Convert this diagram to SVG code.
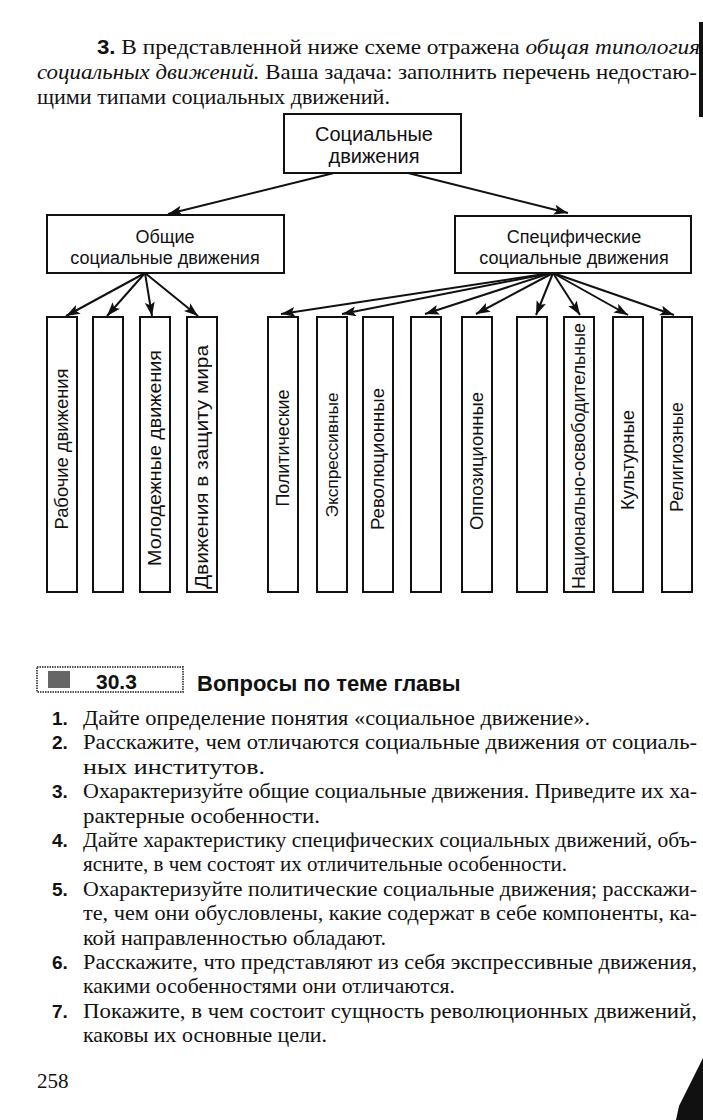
<svg xmlns="http://www.w3.org/2000/svg" width="703" height="1120" viewBox="0 0 703 1120">
<style>
.box{fill:#fff;stroke:#111;stroke-width:2}
.lbl{font-family:"Liberation Sans",Arial,sans-serif;font-size:18px;fill:#111;text-anchor:middle}
.vl{font-family:"Liberation Sans",Arial,sans-serif;font-size:18px;fill:#111;text-anchor:middle}
.ser{font-family:"Liberation Serif","Times New Roman",serif;font-size:21px;fill:#111}
.num{font-family:"Liberation Sans",Arial,sans-serif;font-size:19px;font-weight:bold;fill:#111}
.con line{stroke:#111;stroke-width:2;marker-end:url(#ah)}
</style>
<defs>
<marker id="ah" markerUnits="userSpaceOnUse" markerWidth="16" markerHeight="12" refX="14" refY="5" orient="auto">
<path d="M0,0 L14,5 L0,10 L3,5 z" fill="#111"/>
</marker>
</defs>
<rect width="703" height="1120" fill="#fff"/>

<g id="intro">
<text class="ser" x="97" y="54" textLength="603" lengthAdjust="spacingAndGlyphs"><tspan class="num" style="font-size:20px">3.</tspan> В представленной ниже схеме отражена <tspan font-style="italic">общая типология</tspan></text>
<text class="ser" x="37" y="79" textLength="660" lengthAdjust="spacingAndGlyphs"><tspan font-style="italic">социальных движений.</tspan> Ваша задача: заполнить перечень недостаю-</text>
<text class="ser" x="37" y="104" textLength="353" lengthAdjust="spacingAndGlyphs">щими типами социальных движений.</text>
</g>

<g id="connectors" class="con">
<line x1="334" y1="173" x2="168" y2="214"/>
<line x1="408" y1="173" x2="568" y2="213"/>
<line x1="145" y1="273" x2="66" y2="316"/>
<line x1="145" y1="273" x2="107" y2="316"/>
<line x1="145" y1="273" x2="152" y2="316"/>
<line x1="145" y1="273" x2="198" y2="316"/>
<line x1="551" y1="273" x2="281" y2="314"/>
<line x1="551" y1="273" x2="342" y2="314"/>
<line x1="551" y1="273" x2="425" y2="314"/>
<line x1="553" y1="273" x2="476" y2="314"/>
<line x1="553" y1="273" x2="536" y2="315"/>
<line x1="553" y1="273" x2="580" y2="315"/>
<line x1="553" y1="273" x2="628" y2="315"/>
<line x1="553" y1="273" x2="674" y2="315"/>
</g>

<g id="root">
<rect class="box" x="284" y="114" width="177" height="59"/>
<text class="lbl" style="font-size:20px" x="374" y="141">Социальные</text>
<text class="lbl" style="font-size:20px" x="374" y="163">движения</text>
</g>
<g id="general">
<rect class="box" x="47" y="215" width="237" height="58"/>
<text class="lbl" x="165" y="243">Общие</text>
<text class="lbl" x="165" y="264">социальные движения</text>
</g>
<g id="specific">
<rect class="box" x="455" y="216" width="236" height="57"/>
<text class="lbl" x="574" y="243">Специфические</text>
<text class="lbl" x="574" y="264">социальные движения</text>
</g>

<g id="g1"><rect class="box" x="47" y="317" width="30" height="275"/><text class="vl" transform="translate(62,449) rotate(-90)" y="6" textLength="161" lengthAdjust="spacingAndGlyphs">Рабочие движения</text></g>
<g id="g2"><rect class="box" x="93" y="317" width="30" height="275"/></g>
<g id="g3"><rect class="box" x="140" y="317" width="30" height="275"/><text class="vl" transform="translate(155,458) rotate(-90)" y="6" textLength="216" lengthAdjust="spacingAndGlyphs">Молодежные движения</text></g>
<g id="g4"><rect class="box" x="187" y="317" width="30" height="275"/><text class="vl" transform="translate(202,467) rotate(-90)" y="6" textLength="244" lengthAdjust="spacingAndGlyphs">Движения в защиту мира</text></g>

<g id="s1"><rect class="box" x="268" y="317" width="30" height="275"/><text class="vl" transform="translate(283,448) rotate(-90)" y="6" textLength="117" lengthAdjust="spacingAndGlyphs">Политические</text></g>
<g id="s2"><rect class="box" x="317" y="317" width="30" height="275"/><text class="vl" style="font-size:16.5px" transform="translate(332,455) rotate(-90)" y="6" textLength="125" lengthAdjust="spacingAndGlyphs">Экспрессивные</text></g>
<g id="s3"><rect class="box" x="363" y="317" width="30" height="275"/><text class="vl" transform="translate(378,459) rotate(-90)" y="6" textLength="142" lengthAdjust="spacingAndGlyphs">Революционные</text></g>
<g id="s4"><rect class="box" x="411" y="317" width="30" height="275"/></g>
<g id="s5"><rect class="box" x="462" y="317" width="30" height="275"/><text class="vl" transform="translate(477,461) rotate(-90)" y="6" textLength="138" lengthAdjust="spacingAndGlyphs">Оппозиционные</text></g>
<g id="s6"><rect class="box" x="517" y="317" width="30" height="275"/></g>
<g id="s7"><rect class="box" x="564" y="317" width="30" height="275"/><text class="vl" transform="translate(579,456) rotate(-90)" y="6" textLength="266" lengthAdjust="spacingAndGlyphs">Национально-освободительные</text></g>
<g id="s8"><rect class="box" x="613" y="317" width="30" height="275"/><text class="vl" transform="translate(628,460) rotate(-90)" y="6" textLength="100" lengthAdjust="spacingAndGlyphs">Культурные</text></g>
<g id="s9"><rect class="box" x="662" y="317" width="30" height="275"/><text class="vl" transform="translate(677,457) rotate(-90)" y="6" textLength="110" lengthAdjust="spacingAndGlyphs">Религиозные</text></g>

<g id="section">
<rect x="37" y="667" width="146" height="25" fill="none" stroke="#555" stroke-width="2" stroke-dasharray="1.5 1"/>
<rect x="48" y="671" width="22" height="17" fill="#666"/>
<text class="num" style="font-size:21px" x="96" y="689">30.3</text>
<text class="num" style="font-size:22px" x="197" y="691">Вопросы по теме главы</text>
</g>

<g id="questions">
<text class="num" x="52" y="725">1.</text>
<text class="ser" x="83" y="725" textLength="507" lengthAdjust="spacingAndGlyphs">Дайте определение понятия «социальное движение».</text>
<text class="num" x="52" y="749.4">2.</text>
<text class="ser" x="83" y="749.4" textLength="614" lengthAdjust="spacingAndGlyphs">Расскажите, чем отличаются социальные движения от социаль-</text>
<text class="ser" x="83" y="773.8" textLength="182" lengthAdjust="spacingAndGlyphs">ных институтов.</text>
<text class="num" x="52" y="798.2">3.</text>
<text class="ser" x="83" y="798.2" textLength="614" lengthAdjust="spacingAndGlyphs">Охарактеризуйте общие социальные движения. Приведите их ха-</text>
<text class="ser" x="83" y="822.6" textLength="237" lengthAdjust="spacingAndGlyphs">рактерные особенности.</text>
<text class="num" x="52" y="847">4.</text>
<text class="ser" x="83" y="847" textLength="614" lengthAdjust="spacingAndGlyphs">Дайте характеристику специфических социальных движений, объ-</text>
<text class="ser" x="83" y="871.4" textLength="484" lengthAdjust="spacingAndGlyphs">ясните, в чем состоят их отличительные особенности.</text>
<text class="num" x="52" y="895.8">5.</text>
<text class="ser" x="83" y="895.8" textLength="614" lengthAdjust="spacingAndGlyphs">Охарактеризуйте политические социальные движения; расскажи-</text>
<text class="ser" x="83" y="920.2" textLength="614" lengthAdjust="spacingAndGlyphs">те, чем они обусловлены, какие содержат в себе компоненты, ка-</text>
<text class="ser" x="83" y="944.6" textLength="303" lengthAdjust="spacingAndGlyphs">кой направленностью обладают.</text>
<text class="num" x="52" y="969">6.</text>
<text class="ser" x="83" y="969" textLength="614" lengthAdjust="spacingAndGlyphs">Расскажите, что представляют из себя экспрессивные движения,</text>
<text class="ser" x="83" y="993.4" textLength="372" lengthAdjust="spacingAndGlyphs">какими особенностями они отличаются.</text>
<text class="num" x="52" y="1017.8">7.</text>
<text class="ser" x="83" y="1017.8" textLength="614" lengthAdjust="spacingAndGlyphs">Покажите, в чем состоит сущность революционных движений,</text>
<text class="ser" x="83" y="1042.2" textLength="244" lengthAdjust="spacingAndGlyphs">каковы их основные цели.</text>
</g>

<text class="ser" x="37" y="1088">258</text>

<g id="edge-marks">
<rect x="699" y="22" width="4" height="95" fill="#111"/>
<path d="M703,1058 L699,1066 L692,1080 L685,1094 L679,1106 L676,1120 L703,1120 z" fill="#111"/>
</g>
</svg>
